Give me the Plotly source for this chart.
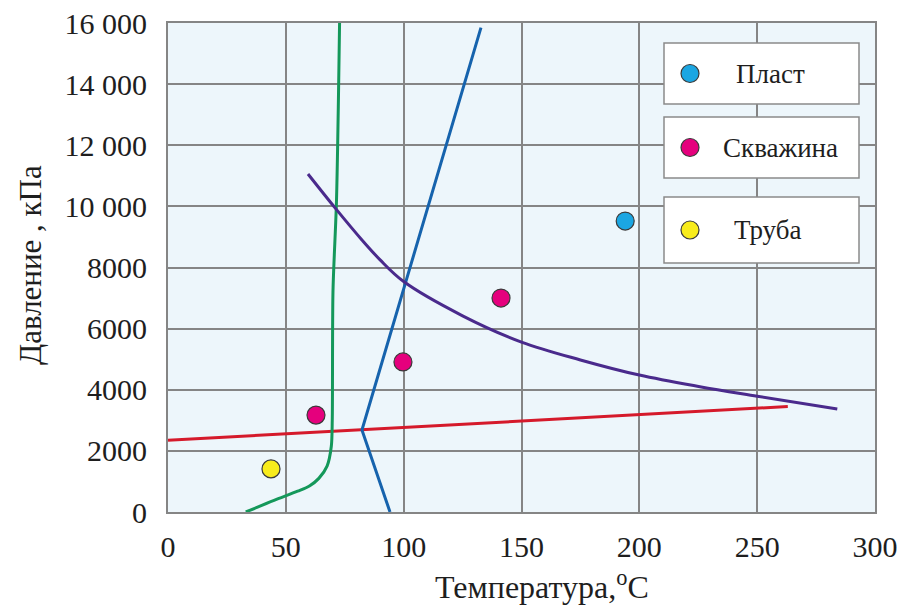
import plotly.graph_objects as go

# ---- data ----
green_t = [33, 45, 55, 60, 64, 67.5, 69.3, 69.7, 70.0, 71.5, 72.8]
green_p = [0, 380, 680, 850, 1100, 1500, 2150, 3000, 7200, 10200, 16000]

blue_t = [94.2, 82.3, 132.8]
blue_p = [0, 2680, 15850]

red_t = [0, 263]
red_p = [2350, 3450]

purple_t = [59.4, 70.9, 82.3, 90, 100, 125, 150, 175, 200, 225.7, 250, 284]
purple_p = [11060, 9950, 8900, 8250, 7540, 6420, 5560, 4975, 4480, 4100, 3790, 3370]

plast_t = [194]
plast_p = [9520]
well_t = [62.8, 99.7, 141.3]
well_p = [3170, 4910, 7000]
pipe_t = [43.7]
pipe_p = [1410]

legend_names = ["Пласт", "Скважина", "Труба"]
legend_colors = ["#1ba6e2", "#e5007d", "#f8ec1c"]

x_ticks = [0, 50, 100, 150, 200, 250, 300]
y_ticks = [0, 2000, 4000, 6000, 8000, 10000, 12000, 14000, 16000]
y_ticktext = ["0", "2000", "4000", "6000", "8000", "10 000", "12 000", "14 000", "16 000"]

FONT = "Liberation Serif, Times New Roman, DejaVu Serif, serif"
GRID = "#858585"
TXT = "#1e1e1e"

fig = go.Figure()
fig.add_trace(go.Scatter(x=red_t, y=red_p, mode="lines",
                         line=dict(color="#d51a2b", width=3), showlegend=False))
fig.add_trace(go.Scatter(x=green_t, y=green_p, mode="lines",
                         line=dict(color="#14985a", width=3, shape="spline", smoothing=0.8),
                         showlegend=False))
fig.add_trace(go.Scatter(x=blue_t, y=blue_p, mode="lines",
                         line=dict(color="#1663ad", width=3), showlegend=False))
fig.add_trace(go.Scatter(x=purple_t, y=purple_p, mode="lines",
                         line=dict(color="#4a2a8c", width=3, shape="spline", smoothing=1.0),
                         showlegend=False))

for xs, ys, col in [(plast_t, plast_p, legend_colors[0]),
                    (well_t, well_p, legend_colors[1]),
                    (pipe_t, pipe_p, legend_colors[2])]:
    fig.add_trace(go.Scatter(x=xs, y=ys, mode="markers",
                             marker=dict(size=18, color=col, line=dict(color="#3a3a3a", width=1.2)),
                             showlegend=False))

# ---- custom legend: three separate boxes ----
L, R, T, B = 168, 875, 23, 512
def px(x):
    return (x - L) / (R - L)
def py(y):
    return (B - y) / (B - T)

boxes = [(43, 104), (117, 178), (197, 263)]
text_x = [770, 780, 767]
shapes = []
annotations = []
for (y0, y1), name, col, tx in zip(boxes, legend_names, legend_colors, text_x):
    shapes.append(dict(type="rect", xref="paper", yref="paper",
                       x0=px(664), x1=px(859), y0=py(y1), y1=py(y0),
                       fillcolor="white", line=dict(color="#8a8a8a", width=1.5),
                       layer="above"))
    yc = (y0 + y1) / 2
    shapes.append(dict(type="circle", xref="paper", yref="paper",
                       xsizemode="pixel", ysizemode="pixel",
                       xanchor=px(690), yanchor=py(yc),
                       x0=-9, x1=9, y0=-9, y1=9,
                       fillcolor=col, line=dict(color="#3a3a3a", width=1.2),
                       layer="above"))
    annotations.append(dict(xref="paper", yref="paper", x=px(tx), y=py(yc),
                            text=name, showarrow=False, xanchor="center", yanchor="middle",
                            font=dict(family=FONT, size=27, color=TXT)))

annotations.append(dict(xref="paper", yref="paper", x=px(542), y=py(585),
                        text="Температура,<sup>o</sup>C", showarrow=False,
                        xanchor="center", yanchor="middle",
                        font=dict(family=FONT, size=32, color=TXT)))
annotations.append(dict(xref="paper", yref="paper", x=px(30), y=py(265),
                        text="Давление , кПа", showarrow=False, textangle=-90,
                        xanchor="center", yanchor="middle",
                        font=dict(family=FONT, size=31, color=TXT)))

fig.update_layout(
    width=897, height=605,
    margin=dict(l=L, r=897 - R, t=T, b=605 - B, autoexpand=False),
    paper_bgcolor="white", plot_bgcolor="#edf6fb",
    font=dict(family=FONT, size=28, color=TXT),
    shapes=shapes, annotations=annotations,
    showlegend=False,
)
fig.update_xaxes(range=[0, 300], tickvals=x_ticks, ticktext=[str(v) for v in x_ticks],
                 showgrid=True, gridcolor=GRID, gridwidth=2, automargin=False,
                 showline=True, linecolor=GRID, linewidth=2, mirror=True,
                 zeroline=False, ticks="", ticklabelstandoff=7,
                 ticklabeloverflow="allow",
                 tickfont=dict(family=FONT, size=30, color=TXT))
fig.update_yaxes(range=[0, 16000], tickvals=y_ticks, ticktext=y_ticktext,
                 showgrid=True, gridcolor=GRID, gridwidth=2, automargin=False,
                 showline=True, linecolor=GRID, linewidth=2, mirror=True,
                 zeroline=False, ticks="", ticklabelstandoff=13,
                 ticklabeloverflow="allow",
                 tickfont=dict(family=FONT, size=30, color=TXT))

fig.write_html("out.html")
